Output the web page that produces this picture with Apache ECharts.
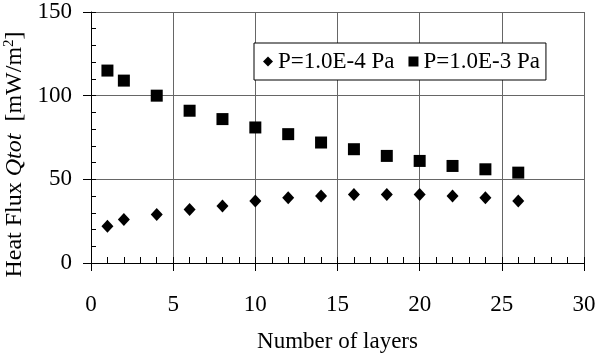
<!DOCTYPE html>
<html>
<head>
<meta charset="utf-8">
<script src="https://cdn.jsdelivr.net/npm/echarts@6/dist/echarts.min.js"></script>
<style>
  html, body { margin: 0; padding: 0; background: #fff; }
  #chart { width: 598px; height: 356px; }
</style>
</head>
<body>
<div id="chart"></div>
<script>
// number of layers
const layers = [1, 2, 4, 6, 8, 10, 12, 14, 16, 18, 20, 22, 24, 26];
// heat flux, P = 1.0E-4 Pa (diamonds)
const fluxLow = [22, 26, 29, 32, 34, 37, 39, 40, 41, 41, 41, 40, 39, 37];
// heat flux, P = 1.0E-3 Pa (squares)
const fluxHigh = [115, 109, 100, 91, 86, 81, 77, 72, 68, 64, 61, 58, 56, 54];

const seriesNames = ['P=1.0E-4 Pa', 'P=1.0E-3 Pa'];

const font = '"Liberation Serif", "Times New Roman", serif';
const toPairs = (xs, ys) => xs.map((x, i) => [x, ys[i]]);

const chart = echarts.init(document.getElementById('chart'), null, { renderer: 'canvas' });

const hidden = { show: false };

const option = {
  animation: false,
  backgroundColor: '#fff',
  textStyle: { fontFamily: font, color: '#000' },
  grid: { left: 91, right: 14, top: 12, bottom: 93, containLabel: false, outerBoundsMode: 'none' },
  legend: {
    left: 254, top: 43,
    padding: [6, 6, 6, 9],
    backgroundColor: '#fff',
    borderColor: '#000',
    borderWidth: 1,
    borderRadius: 0,
    itemWidth: 10, itemHeight: 10, itemGap: 14,
    textStyle: { fontFamily: font, fontSize: 23, lineHeight: 25, color: '#000' },
    data: [
      { name: seriesNames[0], icon: 'diamond', itemStyle: { color: '#000', opacity: 1 } },
      { name: seriesNames[1], icon: 'rect', itemStyle: { color: '#000', opacity: 1 } }
    ]
  },
  xAxis: [
    {
      type: 'value', min: 0, max: 30, interval: 5,
      name: 'Number of layers', nameLocation: 'middle', nameGap: 67,
      nameTextStyle: { fontFamily: font, fontSize: 23, color: '#000' },
      axisLine: { show: true, onZero: false, lineStyle: { color: '#000', width: 1 } },
      axisTick: { show: true, inside: false, length: 8, lineStyle: { color: '#000' } },
      axisLabel: { margin: 30, fontFamily: font, fontSize: 23, color: '#000' },
      splitLine: { show: true, lineStyle: { color: '#666', width: 1 } }
    },
    {
      // minor ticks pointing into the plot
      type: 'value', min: 0, max: 30, interval: 1, gridIndex: 0, position: 'bottom',
      axisLine: { show: false },
      axisTick: { show: true, inside: true, length: 6, lineStyle: { color: '#000' } },
      axisLabel: hidden, splitLine: hidden
    }
  ],
  yAxis: [
    {
      type: 'value', min: 0, max: 150, interval: 50,
      name: '{n|Heat Flux }{i|Qtot}{n|  [mW/m}{s|2}{n|]}',
      nameLocation: 'middle', nameGap: 59, nameRotate: 90,
      nameTextStyle: {
        fontFamily: font, fontSize: 24, color: '#000',
        padding: [0, 34, 0, 0],
        rich: {
          n: { fontFamily: font, fontSize: 24, color: '#000', lineHeight: 26 },
          i: { fontFamily: font, fontSize: 24, fontStyle: 'italic', color: '#000', lineHeight: 26 },
          s: { fontFamily: font, fontSize: 15, color: '#000', verticalAlign: 'top', lineHeight: 26 }
        }
      },
      axisLine: { show: true, onZero: false, lineStyle: { color: '#000', width: 1 } },
      axisTick: { show: true, inside: false, length: 8, lineStyle: { color: '#000' } },
      axisLabel: { margin: 19, fontFamily: font, fontSize: 23, color: '#000' },
      splitLine: { show: true, lineStyle: { color: '#666', width: 1 } }
    },
    {
      type: 'value', min: 0, max: 150, interval: 10, gridIndex: 0, position: 'left',
      axisLine: { show: false },
      axisTick: { show: true, inside: true, length: 5, lineStyle: { color: '#000' } },
      axisLabel: hidden, splitLine: hidden
    }
  ],
  series: [
    {
      name: seriesNames[0], type: 'scatter',
      symbol: 'diamond', symbolSize: [12, 13],
      itemStyle: { color: '#000', opacity: 1 },
      data: toPairs(layers, fluxLow)
    },
    {
      name: seriesNames[1], type: 'scatter',
      symbol: 'rect', symbolSize: 12,
      itemStyle: { color: '#000', opacity: 1 },
      data: toPairs(layers, fluxHigh)
    }
  ]
};

chart.setOption(option);
</script>
</body>
</html>
